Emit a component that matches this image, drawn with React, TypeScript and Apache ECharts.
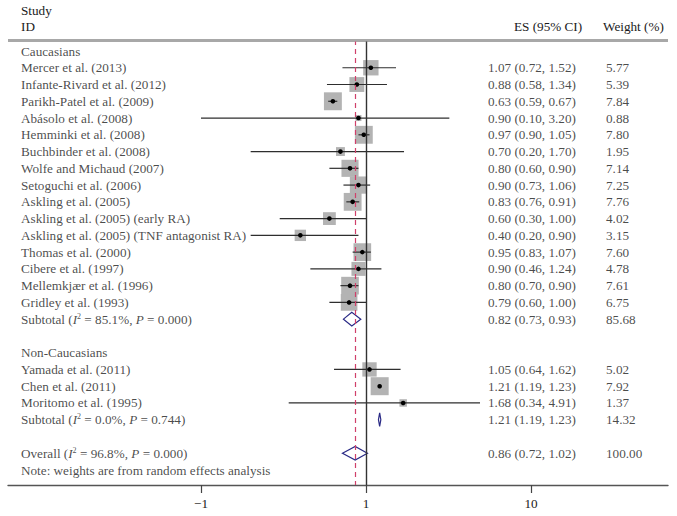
import React, { useEffect, useRef } from "react";
import * as echarts from "echarts";

// ---------- data ----------
const groupLabels = ["Caucasians", "Non-Caucasians"];

const caucStudies = [
  "Mercer et al. (2013)",
  "Infante-Rivard et al. (2012)",
  "Parikh-Patel et al. (2009)",
  "Abásolo et al. (2008)",
  "Hemminki et al. (2008)",
  "Buchbinder et al. (2008)",
  "Wolfe and Michaud (2007)",
  "Setoguchi et al. (2006)",
  "Askling et al. (2005)",
  "Askling et al. (2005) (early RA)",
  "Askling et al. (2005) (TNF antagonist RA)",
  "Thomas et al. (2000)",
  "Cibere et al. (1997)",
  "Mellemkjær et al. (1996)",
  "Gridley et al. (1993)",
];
const caucES = [1.07, 0.88, 0.63, 0.9, 0.97, 0.7, 0.8, 0.9, 0.83, 0.6, 0.4, 0.95, 0.9, 0.8, 0.79];
const caucLower = [0.72, 0.58, 0.59, 0.1, 0.9, 0.2, 0.6, 0.73, 0.76, 0.3, 0.2, 0.83, 0.46, 0.7, 0.6];
const caucUpper = [1.52, 1.34, 0.67, 3.2, 1.05, 1.7, 0.9, 1.06, 0.91, 1.0, 0.9, 1.07, 1.24, 0.9, 1.0];
const caucWeight = [5.77, 5.39, 7.84, 0.88, 7.8, 1.95, 7.14, 7.25, 7.76, 4.02, 3.15, 7.6, 4.78, 7.61, 6.75];

const nonCaucStudies = ["Yamada et al. (2011)", "Chen et al. (2011)", "Moritomo et al. (1995)"];
const nonCaucES = [1.05, 1.21, 1.68];
const nonCaucLower = [0.64, 1.19, 0.34];
const nonCaucUpper = [1.62, 1.23, 4.91];
const nonCaucWeight = [5.02, 7.92, 1.37];

const subtotalES = [0.82, 1.21];
const subtotalLower = [0.73, 1.19];
const subtotalUpper = [0.93, 1.23];
const subtotalWeight = [85.68, 14.32];
const subtotalI2 = ["85.1%", "0.0%"];
const subtotalP = ["0.000", "0.744"];

const overallES = 0.86;
const overallLower = 0.72;
const overallUpper = 1.02;
const overallWeight = 100.0;
const overallI2 = "96.8%";
const overallP = "0.000";

const noteText = "Note: weights are from random effects analysis";
const headerStudy = ["Study", "ID"];
const headerES = "ES (95% CI)";
const headerWeight = "Weight (%)";

const xTickValues = [0.1, 1, 10];
const xTickLabels = ["−1", "1", "10"];
const nullValue = 1;

// ---------- layout constants ----------
const W = 677;
const H = 516;
const GRID_LEFT = 8;
const GRID_RIGHT = 9;
const GRID_TOP = 40;
const GRID_BOTTOM = 31;
const PX_ONE = 366; // pixel of value 1
const PX_DECADE = 165;
const X_MIN = Math.pow(10, (GRID_LEFT - PX_ONE) / PX_DECADE);
const X_MAX = Math.pow(10, (W - GRID_RIGHT - PX_ONE) / PX_DECADE);
const ROW_Y0 = 51;
const ROW_STEP = 16.76;
const Y_MIN = (GRID_TOP - ROW_Y0) / ROW_STEP;
const Y_MAX = (H - GRID_BOTTOM - ROW_Y0) / ROW_STEP;
const COL_STUDY = 13; // relative to grid left
const COL_ES = 480;
const COL_WEIGHT = 598;
const FONT = "'Liberation Serif', 'Times New Roman', serif";
const FONT_SIZE = 13.2;
const TEXT_COLOR = "#1a1a1a";

const fmtCI = (e: number, l: number, u: number) =>
  `${e.toFixed(2)} (${l.toFixed(2)}, ${u.toFixed(2)})`;
const hetLabel = (prefix: string, i2: string, p: string) =>
  `${prefix} ({i|I}{sup|2} = ${i2}, {i|P} = ${p})`;

export default function App() {
  const ref = useRef<HTMLDivElement>(null);

  useEffect(() => {
    if (!ref.current) return;
    const chart = echarts.init(ref.current, undefined, { renderer: "svg" });

    // build rows
    const studyPts: any[] = [];
    const diamondPts: any[] = [];
    const textPts: any[] = [];
    let row = 0;
    const groups = [
      { label: groupLabels[0], names: caucStudies, es: caucES, lo: caucLower, hi: caucUpper, w: caucWeight },
      { label: groupLabels[1], names: nonCaucStudies, es: nonCaucES, lo: nonCaucLower, hi: nonCaucUpper, w: nonCaucWeight },
    ];
    groups.forEach((g, gi) => {
      textPts.push([COL_STUDY, row, g.label]);
      row++;
      g.names.forEach((n, i) => {
        studyPts.push([g.es[i], row, g.lo[i], g.hi[i], g.w[i]]);
        textPts.push([COL_STUDY, row, n]);
        textPts.push([COL_ES, row, fmtCI(g.es[i], g.lo[i], g.hi[i])]);
        textPts.push([COL_WEIGHT, row, g.w[i].toFixed(2)]);
        row++;
      });
      diamondPts.push([subtotalES[gi], row, subtotalLower[gi], subtotalUpper[gi]]);
      textPts.push([COL_STUDY, row, hetLabel("Subtotal", subtotalI2[gi], subtotalP[gi])]);
      textPts.push([COL_ES, row, fmtCI(subtotalES[gi], subtotalLower[gi], subtotalUpper[gi])]);
      textPts.push([COL_WEIGHT, row, subtotalWeight[gi].toFixed(2)]);
      row += 2;
    });
    diamondPts.push([overallES, row, overallLower, overallUpper]);
    textPts.push([COL_STUDY, row, hetLabel("Overall", overallI2, overallP)]);
    textPts.push([COL_ES, row, fmtCI(overallES, overallLower, overallUpper)]);
    textPts.push([COL_WEIGHT, row, overallWeight.toFixed(2)]);
    row++;
    textPts.push([COL_STUDY, row, noteText]);

    const headerFont = `${FONT_SIZE}px ${FONT}`;

    chart.setOption({
      animation: false,
      backgroundColor: "#ffffff",
      grid: { left: GRID_LEFT, right: GRID_RIGHT, top: GRID_TOP, bottom: GRID_BOTTOM },
      xAxis: [
        {
          type: "log",
          logBase: 10,
          min: X_MIN,
          max: X_MAX,
          position: "bottom",
          axisLine: { show: true, onZero: false, lineStyle: { color: "#555", width: 1.4 } },
          axisTick: {
            show: true,
            length: 8,
            inside: false,
            customValues: xTickValues,
            lineStyle: { color: "#444", width: 1.2 },
          },
          axisLabel: {
            show: true,
            customValues: xTickValues,
            margin: 12,
            fontFamily: FONT,
            fontSize: FONT_SIZE,
            color: TEXT_COLOR,
            formatter: (v: number) => {
              const i = xTickValues.findIndex((t) => Math.abs(t - v) / t < 1e-6);
              return i >= 0 ? xTickLabels[i] : "";
            },
          },
          splitLine: { show: false },
        },
        {
          type: "value",
          show: false,
          min: 0,
          max: W - GRID_LEFT - GRID_RIGHT,
          position: "top",
        },
      ],
      yAxis: {
        type: "value",
        inverse: true,
        min: Y_MIN,
        max: Y_MAX,
        show: false,
        splitLine: { show: false },
      },
      graphic: [
        {
          type: "rect",
          shape: { x: GRID_LEFT, y: GRID_TOP - 1, width: W - GRID_LEFT - GRID_RIGHT, height: 2.5 },
          style: { fill: "#a8a8a8" },
          z: 10,
        },
        { type: "text", left: GRID_LEFT + COL_STUDY, top: 4, style: { text: headerStudy[0], fill: TEXT_COLOR, font: headerFont } },
        { type: "text", left: GRID_LEFT + COL_STUDY, top: 20, style: { text: headerStudy[1], fill: TEXT_COLOR, font: headerFont } },
        { type: "text", left: 514, top: 20, style: { text: headerES, fill: TEXT_COLOR, font: headerFont } },
        { type: "text", left: 603, top: 20, style: { text: headerWeight, fill: TEXT_COLOR, font: headerFont } },
      ],
      series: [
        {
          type: "custom",
          name: "separator",
          xAxisIndex: 0,
          yAxisIndex: 0,
          data: [],
          renderItem: () => null,
          markLine: {
            silent: true,
            symbol: "none",
            label: { show: false },
            lineStyle: { color: "#a8a8a8", width: 2.2, type: "solid" },
            data: [{ yAxis: Y_MIN + 0.02 }],
          },
          z: 2,
        },
        {
          type: "custom",
          name: "nullLine",
          xAxisIndex: 0,
          yAxisIndex: 0,
          data: [],
          renderItem: () => null,
          markLine: {
            silent: true,
            symbol: "none",
            label: { show: false },
            lineStyle: { color: "#333", width: 1.4, type: "solid" },
            data: [{ xAxis: nullValue }],
          },
          z: 2,
        },
        {
          type: "custom",
          name: "overallLine",
          xAxisIndex: 0,
          yAxisIndex: 0,
          data: [],
          renderItem: () => null,
          markLine: {
            silent: true,
            symbol: "none",
            label: { show: false },
            lineStyle: { color: "#d0406a", width: 1.2, type: [5, 4] },
            data: [{ xAxis: overallES }],
          },
          z: 2,
        },
        {
          type: "custom",
          name: "studies",
          xAxisIndex: 0,
          yAxisIndex: 0,
          data: studyPts,
          encode: { x: 0, y: 1 },
          clip: false,
          renderItem: (params: any, api: any) => {
            const es = api.value(0);
            const r = api.value(1);
            const lo = api.value(2);
            const hi = api.value(3);
            const w = api.value(4);
            const c = api.coord([es, r]);
            const l = api.coord([lo, r]);
            const h = api.coord([hi, r]);
            const side = Math.sqrt(w) * 6.4;
            return {
              type: "group",
              children: [
                { type: "rect", shape: { x: c[0] - side / 2, y: c[1] - side / 2, width: side, height: side }, style: { fill: "#b3b3b3" } },
                { type: "line", shape: { x1: l[0], y1: l[1], x2: h[0], y2: h[1] }, style: { stroke: "#2e2e2e", lineWidth: 1.2 } },
                { type: "circle", shape: { cx: c[0], cy: c[1], r: 2.3 }, style: { fill: "#000" } },
              ],
            };
          },
          z: 3,
        },
        {
          type: "custom",
          name: "diamonds",
          xAxisIndex: 0,
          yAxisIndex: 0,
          data: diamondPts,
          encode: { x: 0, y: 1 },
          clip: false,
          renderItem: (params: any, api: any) => {
            const es = api.value(0);
            const r = api.value(1);
            const lo = api.value(2);
            const hi = api.value(3);
            const c = api.coord([es, r]);
            const l = api.coord([lo, r]);
            const h = api.coord([hi, r]);
            const hh = 6.8;
            return {
              type: "polygon",
              shape: { points: [[l[0], c[1]], [c[0], c[1] - hh], [h[0], c[1]], [c[0], c[1] + hh]] },
              style: { fill: "none", stroke: "#2a2a86", lineWidth: 1.2 },
            };
          },
          z: 4,
        },
        {
          type: "scatter",
          name: "texts",
          xAxisIndex: 1,
          yAxisIndex: 0,
          data: textPts,
          symbolSize: 0,
          silent: true,
          label: {
            show: true,
            position: "right",
            distance: 0,
            align: "left",
            verticalAlign: "middle",
            fontFamily: FONT,
            fontSize: FONT_SIZE,
            color: TEXT_COLOR,
            formatter: (p: any) => p.data[2],
            rich: {
              i: { fontFamily: FONT, fontSize: FONT_SIZE, fontStyle: "italic", color: TEXT_COLOR },
              sup: { fontFamily: FONT, fontSize: 8, color: TEXT_COLOR, verticalAlign: "top", padding: [0, 0, 6, 0] },
            },
          },
          z: 5,
        },
      ],
    });

    return () => chart.dispose();
  }, []);

  return (
    <div
      ref={ref}
      style={{ position: "absolute", left: 0, top: 0, width: W, height: H, background: "#fff" }}
    />
  );
}
